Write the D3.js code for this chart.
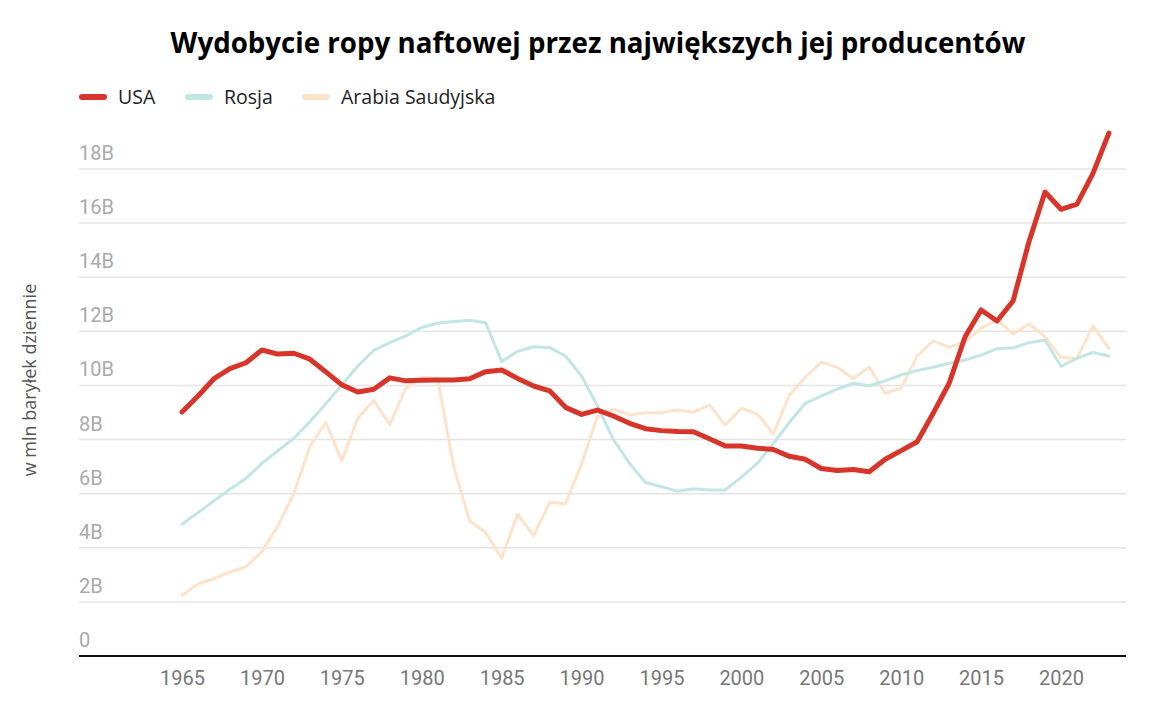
<!DOCTYPE html>
<html><head><meta charset="utf-8">
<script src="https://cdn.jsdelivr.net/npm/d3@7"></script>
<style>body{margin:0;background:#fff;}svg{display:block;}</style>
</head><body>
<script>
const years = d3.range(1965, 2024);
const usa = [9.02,9.61,10.25,10.62,10.84,11.31,11.16,11.19,10.97,10.5,10.02,9.76,9.86,10.28,10.17,10.19,10.2,10.2,10.25,10.51,10.57,10.26,9.98,9.8,9.19,8.93,9.09,8.87,8.6,8.4,8.33,8.3,8.29,8.03,7.76,7.76,7.68,7.63,7.38,7.27,6.93,6.86,6.89,6.81,7.27,7.59,7.92,8.97,10.08,11.8,12.79,12.38,13.12,15.32,17.15,16.51,16.7,17.84,19.33];
const rosja = [4.87,5.3,5.74,6.16,6.56,7.12,7.59,8.05,8.66,9.32,10.02,10.72,11.3,11.58,11.83,12.14,12.3,12.36,12.41,12.32,10.88,11.26,11.43,11.4,11.09,10.35,9.24,7.99,7.12,6.41,6.26,6.09,6.18,6.14,6.14,6.61,7.12,7.86,8.63,9.34,9.61,9.86,10.08,9.99,10.17,10.39,10.55,10.67,10.82,10.94,11.12,11.36,11.39,11.58,11.68,10.7,11.0,11.22,11.09];
const saudi = [2.24,2.66,2.86,3.1,3.3,3.86,4.81,6.01,7.74,8.63,7.22,8.79,9.44,8.54,9.9,10.3,10.26,7.0,5.0,4.56,3.61,5.24,4.45,5.67,5.64,7.1,8.87,9.12,8.91,8.99,8.99,9.09,9.01,9.28,8.54,9.16,8.95,8.21,9.64,10.3,10.86,10.67,10.26,10.67,9.71,9.9,11.09,11.65,11.41,11.62,12.11,12.42,11.9,12.27,11.8,11.04,10.99,12.2,11.37];
const yTicks = [0,2,4,6,8,10,12,14,16,18];
const yTickLabels = ["0","2B","4B","6B","8B","10B","12B","14B","16B","18B"];
const xTicks = [1965,1970,1975,1980,1985,1990,1995,2000,2005,2010,2015,2020];
const seriesNames = ["USA","Rosja","Arabia Saudyjska"];
const seriesColors = ["#d8352a","#c2e6e5","#fde3ca"];
const seriesWidths = [5,3,3];
const title = "Wydobycie ropy naftowej przez największych jej producentów";
const yTitle = "w mln baryłek dziennie";

const W = 1155, H = 702;
const svg = d3.select("body").append("svg").attr("width", W).attr("height", H);
const x = d3.scaleLinear().domain([1965, 2020]).range([182, 1061]);
const y = d3.scaleLinear().domain([0, 18]).range([656, 169]);
const left = 79, right = 1126;

svg.append("text").attr("x", 598).attr("y", 53).attr("text-anchor", "middle")
  .attr("font-family", "'Open Sans', sans-serif").attr("font-weight", 700)
  .attr("font-size", 27.7).attr("fill", "#000").text(title);

// legend
const legX = [82, 188, 305];
seriesNames.forEach((n, i) => {
  svg.append("line").attr("x1", legX[i]).attr("x2", legX[i] + 22).attr("y1", 97).attr("y2", 97)
    .attr("stroke", seriesColors[i]).attr("stroke-width", 6).attr("stroke-linecap", "round");
  svg.append("text").attr("x", legX[i] + 36).attr("y", 104)
    .attr("font-family", "'Open Sans', sans-serif").attr("font-size", 19.5).attr("fill", "#222").text(n);
});

// grid
const g = svg.append("g");
g.selectAll(".grid").data(yTicks.filter(d => d > 0)).join("line")
  .attr("x1", left).attr("x2", right).attr("y1", d => y(d)).attr("y2", d => y(d))
  .attr("stroke", "#e4e4e4").attr("stroke-width", 1.5);
g.selectAll(".ylab").data(yTicks).join("text")
  .attr("x", left).attr("y", d => y(d) - 9)
  .attr("font-family", "Roboto, sans-serif").attr("font-size", 20).attr("fill", "#aaa")
  .text((d, i) => yTickLabels[i]);

// x axis
const xAxis = d3.axisBottom(x).tickValues(xTicks).tickFormat(d3.format("d")).tickSize(0).tickPadding(15);
const xg = svg.append("g").attr("transform", `translate(0,656)`).call(xAxis);
xg.select(".domain").remove();
xg.selectAll("text").attr("font-family", "Roboto, sans-serif").attr("font-size", 20).attr("fill", "#777");
svg.append("line").attr("x1", left).attr("x2", right).attr("y1", 656).attr("y2", 656)
  .attr("stroke", "#111").attr("stroke-width", 2);

svg.append("text").attr("transform", "translate(36,380) rotate(-90)").attr("text-anchor", "middle")
  .attr("font-family", "'Open Sans', sans-serif").attr("font-size", 18).attr("fill", "#555").text(yTitle);

const line = d3.line().x((d, i) => x(years[i])).y(d => y(d));
[saudi, rosja, usa].forEach((s, k) => {
  const i = 2 - k;
  svg.append("path").datum(s).attr("d", line).attr("fill", "none")
    .attr("stroke", seriesColors[i]).attr("stroke-width", seriesWidths[i])
    .attr("stroke-linejoin", "round").attr("stroke-linecap", "round");
});
</script>
</body></html>
